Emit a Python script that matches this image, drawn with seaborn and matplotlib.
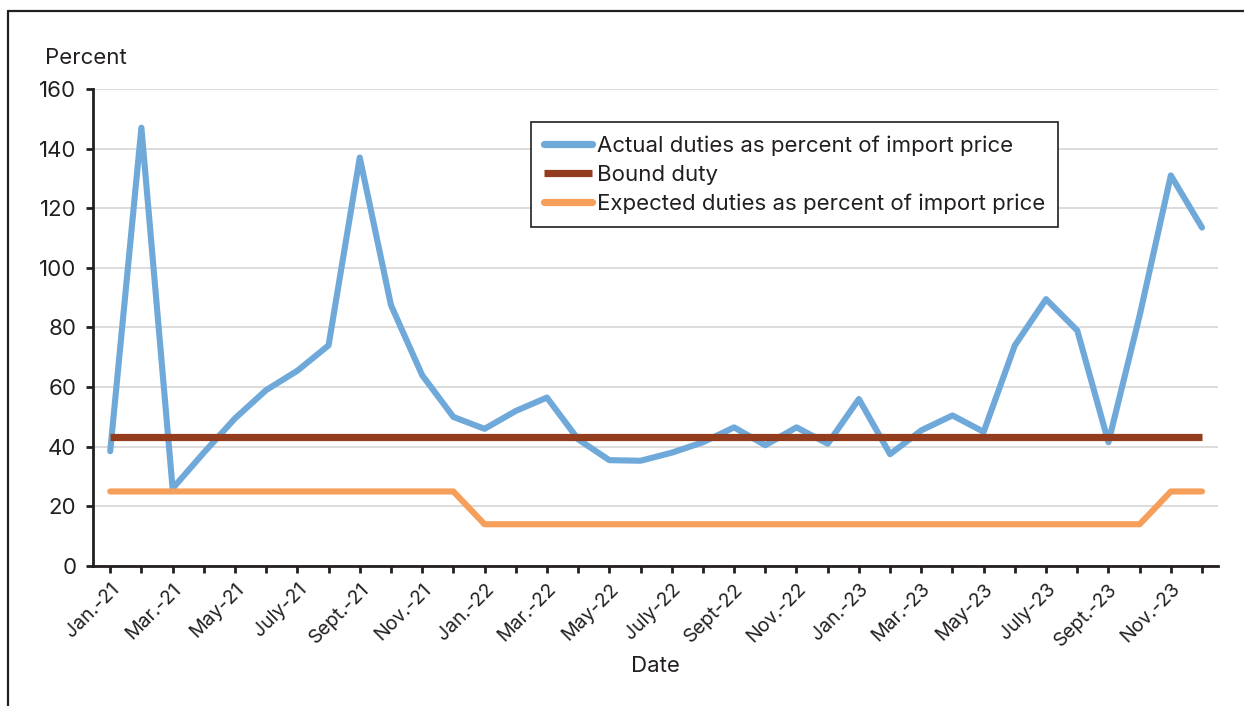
import matplotlib
matplotlib.use("Agg")
import matplotlib.pyplot as plt
from matplotlib.lines import Line2D
import numpy as np
import pandas as pd
import seaborn as sns

# monthly series, Jan. 2021 - Dec. 2023
months = list(range(36))
actual = [38.5, 147, 26, 38, 49.5, 59, 65.5, 74, 137, 87.5, 64, 50,
          46, 52, 56.5, 42.5, 35.5, 35.3, 38, 41.5, 46.5, 40.5, 46.5, 41,
          56, 37.5, 45.5, 50.5, 45, 74, 89.5, 79, 41.5, 84, 131, 113.5]
bound = [43.3] * 36
expected = [25] * 12 + [14] * 21 + [14, 25, 25]

tick_labels = ["Jan.-21", "Mar.-21", "May-21", "July-21", "Sept.-21", "Nov.-21",
               "Jan.-22", "Mar.-22", "May-22", "July-22", "Sept-22", "Nov.-22",
               "Jan.-23", "Mar.-23", "May-23", "July-23", "Sept.-23", "Nov.-23"]

series_names = ["Actual duties as percent of import price", "Bound duty",
                "Expected duties as percent of import price"]
colors = ["#6FA9D9", "#943C1E", "#F59F5B"]

df = pd.DataFrame({"month": months, series_names[0]: actual,
                   series_names[1]: bound, series_names[2]: expected})
long = df.melt(id_vars="month", var_name="series", value_name="value")

sns.set_style("white")
plt.rcParams["font.family"] = ["Inter", "DejaVu Sans"]

fs = 16
ink = "#231F20"

fig = plt.figure(figsize=(12.44, 7.06), dpi=100)
ax = fig.add_axes([0.0748, 0.1983, 0.904, 0.6757])

sns.lineplot(data=long, x="month", y="value", hue="series", hue_order=series_names,
             palette=colors, ax=ax, legend=False, linewidth=4.4)
for line, cap in zip(ax.get_lines(), ["round", "butt", "round"]):
    line.set_solid_capstyle(cap)
    line.set_solid_joinstyle("round")
ax.get_lines()[1].set_linewidth(5.2)
ax.get_lines()[1].set_zorder(3)

ax.set_xlim(-0.55, 35.5)
ax.set_ylim(0, 160)
ax.set_yticks(np.arange(0, 161, 20))
ax.set_xticks(months)
ax.set_xticklabels([tick_labels[i // 2] if i % 2 == 0 else "" for i in months],
                   rotation=45, ha="right", rotation_mode="anchor")
ax.yaxis.grid(True, color="#D9D9D9", linewidth=1.3)
ax.set_axisbelow(True)
for s in ["top", "right"]:
    ax.spines[s].set_visible(False)
for s in ["left", "bottom"]:
    ax.spines[s].set_color(ink)
    ax.spines[s].set_linewidth(2)
ax.tick_params(axis="both", which="major", direction="out", length=5, width=2,
               color=ink, labelsize=fs, labelcolor=ink, left=True, bottom=True)
ax.tick_params(axis="y", pad=7)
ax.tick_params(axis="x", pad=5, labelsize=14)
ax.set_xlabel("Date", fontsize=fs, color=ink, labelpad=5)
ax.set_ylabel("")
fig.text(0.036, 0.918, "Percent", fontsize=fs, color=ink, ha="left", va="center")

handles = [Line2D([], [], color=c, linewidth=5.2, solid_capstyle=cap)
           for c, cap in zip(colors, ["round", "butt", "round"])]
leg = ax.legend(handles, series_names, loc="upper left",
                bbox_to_anchor=(531 / 1244, 1 - 122 / 706), bbox_transform=fig.transFigure,
                borderaxespad=0, fancybox=False, framealpha=1, edgecolor=ink,
                fontsize=fs, handlelength=2.15, handletextpad=0.2, labelspacing=0.4,
                borderpad=0.6)
leg.get_frame().set_linewidth(1.2)
for t in leg.get_texts():
    t.set_color(ink)

# outer frame (left and top edges visible)
fig.add_artist(Line2D([0.0065, 0.0065], [0, 0.985], transform=fig.transFigure,
                      color=ink, linewidth=1.6))
fig.add_artist(Line2D([0.0065, 1], [0.985, 0.985], transform=fig.transFigure,
                      color=ink, linewidth=1.6))

fig.savefig("out.png", dpi=100)
